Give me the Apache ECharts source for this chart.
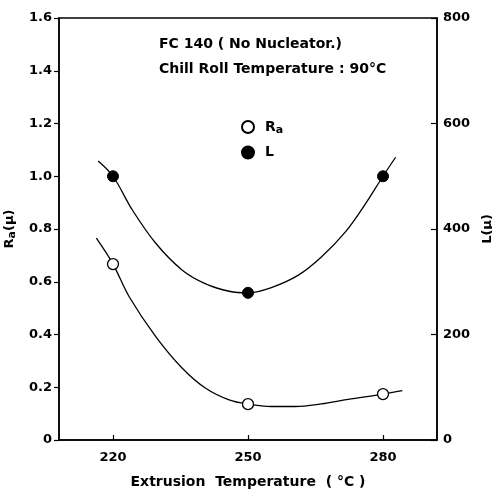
<!DOCTYPE html>
<html>
<head>
<meta charset="utf-8">
<script src="https://cdn.jsdelivr.net/npm/echarts@6/dist/echarts.min.js"></script>
<style>
    html, body { margin: 0; padding: 0; background: #fff; }
    #chart { width: 492px; height: 489px; }
</style>
</head>
<body>
<div id="chart"></div>
<script>
// tick labels
var xTicks = [220, 250, 280];
var raTicks = [0, 0.2, 0.4, 0.6, 0.8, 1.0, 1.2, 1.4, 1.6];
var lTicks = [0, 200, 400, 600, 800];

// measured points
var temps = [220, 250, 280];
var raValues = [0.667, 0.136, 0.174];
var lValues = [500, 279, 500];

// fitted curves
var raCurve = [
    [216.3, 0.765], [220, 0.667], [223.6, 0.543], [229.5, 0.392], [235.4, 0.272],
    [240.6, 0.196], [245.8, 0.152], [250, 0.136], [255.2, 0.127], [260.5, 0.127],
    [266.3, 0.137], [272.2, 0.154], [280, 0.174], [284.3, 0.187]
];
var lCurve = [
    [216.7, 529], [220, 500], [224.3, 436], [229.5, 373], [235.4, 322],
    [240.6, 296], [245.8, 282], [250, 279], [255.2, 289], [261.1, 312],
    [266.3, 347], [271.7, 395], [276.2, 449], [280, 500], [282.8, 536]
];

var font = 'DejaVu Sans';
var chart = echarts.init(document.getElementById('chart'));

var subStyle = { fontFamily: font, fontWeight: 'bold', fontSize: 11, verticalAlign: 'bottom', padding: [6, 0, 0, 0] };

chart.setOption({
    animation: false,
    textStyle: { fontFamily: font, color: '#000' },
    grid: {
        left: 59, right: 55, top: 18, bottom: 49,
        outerBoundsMode: 'none',
        containLabel: false,
        show: true, borderColor: '#000', borderWidth: 1.5
    },
    legend: {
        orient: 'vertical',
        left: 236, top: 115,
        itemWidth: 12, itemHeight: 12, itemGap: 10,
        icon: 'circle',
        data: ['Ra', 'L'],
        formatter: function (name) {
            return name === 'Ra' ? 'R{sub|a}' : name;
        },
        textStyle: {
            fontFamily: font, fontWeight: 'bold', fontSize: 14, color: '#000', padding: [0, 0, 0, 6],
            rich: { sub: subStyle }
        }
    },
    graphic: [
        { type: 'text', left: 159, top: 37, style: { text: 'FC 140 ( No Nucleator.)', font: 'bold 14px DejaVu Sans', fill: '#000' } },
        { type: 'text', left: 159, top: 62, style: { text: 'Chill Roll Temperature : 90°C', font: 'bold 14px DejaVu Sans', fill: '#000' } }
    ],
    xAxis: {
        type: 'value',
        min: 208, max: 292,
        name: 'Extrusion  Temperature  ( °C )',
        nameLocation: 'middle',
        nameGap: 35,
        nameTextStyle: { fontFamily: font, fontWeight: 'bold', fontSize: 14, color: '#000' },
        splitLine: { show: false },
        axisLine: { lineStyle: { color: '#000', width: 1.5 } },
        axisTick: { inside: true, length: 5, customValues: xTicks, lineStyle: { color: '#000', width: 1.2 } },
        axisLabel: { customValues: xTicks, fontFamily: font, fontWeight: 'bold', fontSize: 13, color: '#000', margin: 11 }
    },
    yAxis: [
        {
            type: 'value',
            min: 0, max: 1.6, interval: 0.2,
            position: 'left',
            name: 'R{sub|a}(μ)',
            nameLocation: 'middle',
            nameGap: 38,
            nameRotate: 90,
            nameTextStyle: {
                fontFamily: font, fontWeight: 'bold', fontSize: 13, color: '#000',
                rich: { sub: subStyle }
            },
            splitLine: { show: false },
            axisLine: { show: true, lineStyle: { color: '#000', width: 1.5 } },
            axisTick: { show: true, length: 5, lineStyle: { color: '#000', width: 1.2 } },
            axisLabel: {
                fontFamily: font, fontWeight: 'bold', fontSize: 13, color: '#000', margin: 7,
                customValues: raTicks,
                formatter: function (v) { return v === 0 ? '0' : v.toFixed(1); }
            }
        },
        {
            type: 'value',
            min: 0, max: 800, interval: 200,
            position: 'right',
            name: 'L(μ)',
            nameLocation: 'middle',
            nameGap: 43,
            nameRotate: 90,
            nameTextStyle: { fontFamily: font, fontWeight: 'bold', fontSize: 13, color: '#000' },
            splitLine: { show: false },
            axisLine: { show: true, lineStyle: { color: '#000', width: 1.5 } },
            axisTick: { show: true, inside: true, length: 6, lineStyle: { color: '#000', width: 1.2 } },
            axisLabel: { fontFamily: font, fontWeight: 'bold', fontSize: 13, color: '#000', margin: 6, customValues: lTicks }
        }
    ],
    series: [
        {
            name: 'Ra curve', type: 'line', yAxisIndex: 0, smooth: 0.35,
            showSymbol: false, silent: true,
            lineStyle: { color: '#000', width: 1.3 },
            data: raCurve
        },
        {
            name: 'L curve', type: 'line', yAxisIndex: 1, smooth: 0.35,
            showSymbol: false, silent: true,
            lineStyle: { color: '#000', width: 1.3 },
            data: lCurve
        },
        {
            name: 'Ra', type: 'scatter', yAxisIndex: 0, symbol: 'circle', symbolSize: 11, z: 5,
            itemStyle: { color: '#fff', borderColor: '#000', borderWidth: 1.3, opacity: 1 },
            data: temps.map(function (t, i) { return [t, raValues[i]]; })
        },
        {
            name: 'L', type: 'scatter', yAxisIndex: 1, symbol: 'circle', symbolSize: 11, z: 5,
            itemStyle: { color: '#000', borderColor: '#000', borderWidth: 1, opacity: 1 },
            data: temps.map(function (t, i) { return [t, lValues[i]]; })
        }
    ]
});

window.onresize = function () {
    chart.resize();
};
</script>
</body>
</html>
